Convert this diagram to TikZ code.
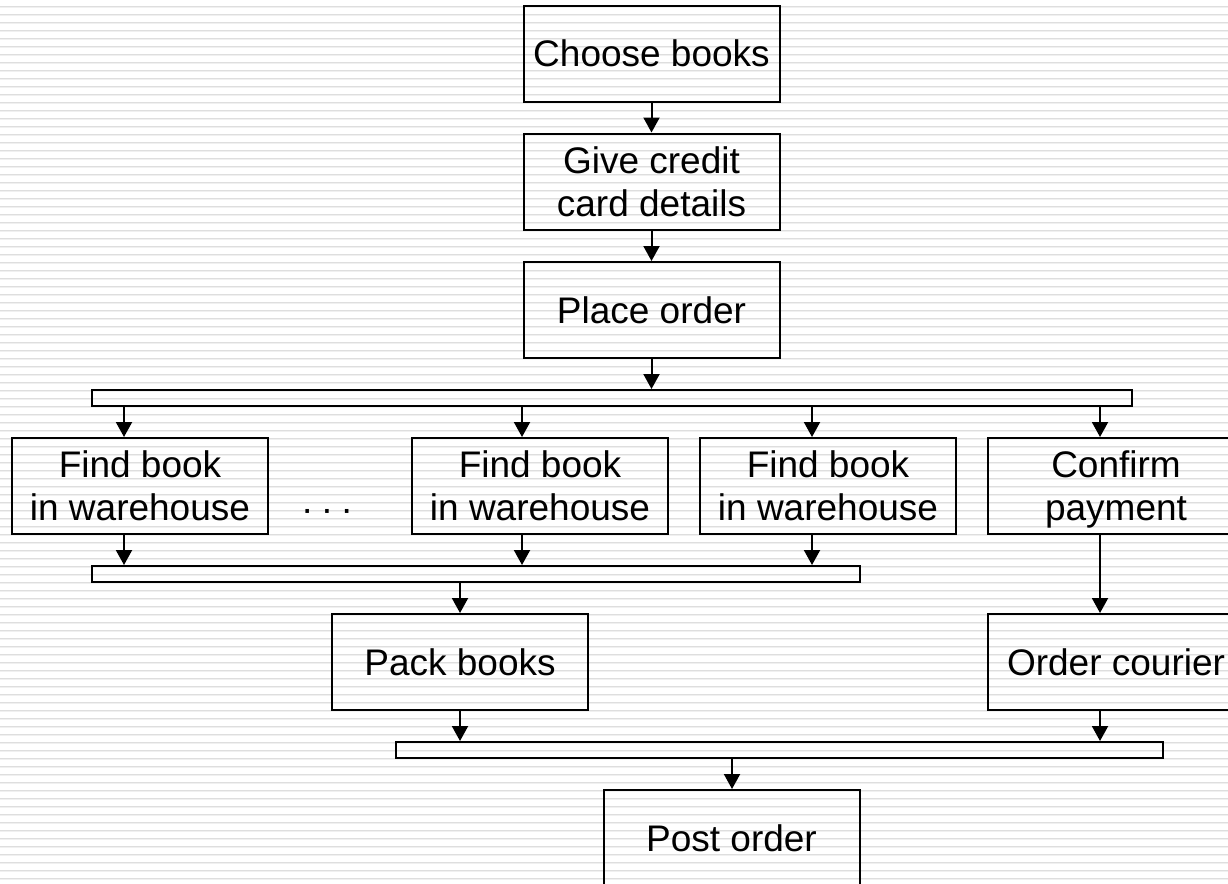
\documentclass[tikz,border=0pt]{standalone}
\usepackage{fontspec}
\setmainfont{Liberation Sans}
\usetikzlibrary{arrows.meta}

\tikzset{
  stepbox/.style={draw, line width=1.2pt, minimum width=153.6pt, minimum height=57.6pt,
    inner sep=0pt, align=center, font=\fontsize{22.2}{25.8}\selectfont},
  syncbar/.style={draw, line width=1.2pt, minimum height=9.6pt, inner sep=0pt},
  flow/.style={line width=1.2pt, -{Triangle[width=9.6pt,length=9pt]}},
}

\begin{document}
\begin{tikzpicture}[x=0.6pt, y=-0.6pt]
  \useasboundingbox (0,0) rectangle (1228,883);
  \clip (0,0) rectangle (1228,883);

  % striped backdrop
  \foreach \i in {0,...,110} {
    \fill[black!13] (0,6+8*\i) rectangle (1228,7+8*\i);
    \fill[black!6]  (0,7+8*\i) rectangle (1228,8+8*\i);
  }

  % activities
  \node[stepbox] (choose)  at (651.5, 53.5) {Choose books};
  \node[stepbox] (give)    at (651.5,181.5) {Give credit\\card details};
  \node[stepbox] (place)   at (651.5,310)   {Place order};
  \node[stepbox] (find1)   at (140,486)     {Find book\\in warehouse};
  \node[stepbox] (find2)   at (540,486)     {Find book\\in warehouse};
  \node[stepbox] (find3)   at (828,486)     {Find book\\in warehouse};
  \node[stepbox] (confirm) at (1116,486)    {Confirm\\\raisebox{0pt}[\height][0pt]{payment}};
  \node[stepbox] (pack)    at (460,662)     {Pack books};
  \node[stepbox] (courier) at (1116,662)    {Order courier};
  \node[stepbox] (post)    at (731.5,838)   {Post order};
  \node[anchor=base, inner sep=0pt, font=\fontsize{22.2}{25.8}\selectfont] (more)
    at (327,521) {·\hspace{4.5pt}·\hspace{4.5pt}·};

  % fork / join bars
  \node[syncbar, minimum width=624pt]   (bar1) at (612,398)   {};
  \node[syncbar, minimum width=460.8pt] (bar2) at (476,574)   {};
  \node[syncbar, minimum width=460.2pt] (bar3) at (779.5,750) {};

  % arrow columns
  \coordinate (xa) at (124,0);
  \coordinate (xb) at (522,0);
  \coordinate (xc) at (812,0);
  \coordinate (xd) at (1100,0);
  \coordinate (xm) at (651.5,0);
  \coordinate (xp) at (460,0);
  \coordinate (xq) at (732,0);

  % flow
  \draw[flow] (choose.south) -- (give.north);
  \draw[flow] (give.south) -- (place.north);
  \draw[flow] (place.south) -- (bar1.north -| xm);

  \draw[flow] (bar1.south -| xa) -- (find1.north -| xa);
  \draw[flow] (bar1.south -| xb) -- (find2.north -| xb);
  \draw[flow] (bar1.south -| xc) -- (find3.north -| xc);
  \draw[flow] (bar1.south -| xd) -- (confirm.north -| xd);

  \draw[flow] (find1.south -| xa) -- (bar2.north -| xa);
  \draw[flow] (find2.south -| xb) -- (bar2.north -| xb);
  \draw[flow] (find3.south -| xc) -- (bar2.north -| xc);
  \draw[flow] (bar2.south -| xp) -- (pack.north -| xp);

  \draw[flow] (confirm.south -| xd) -- (courier.north -| xd);
  \draw[flow] (pack.south -| xp) -- (bar3.north -| xp);
  \draw[flow] (courier.south -| xd) -- (bar3.north -| xd);
  \draw[flow] (bar3.south -| xq) -- (post.north -| xq);
\end{tikzpicture}
\end{document}
